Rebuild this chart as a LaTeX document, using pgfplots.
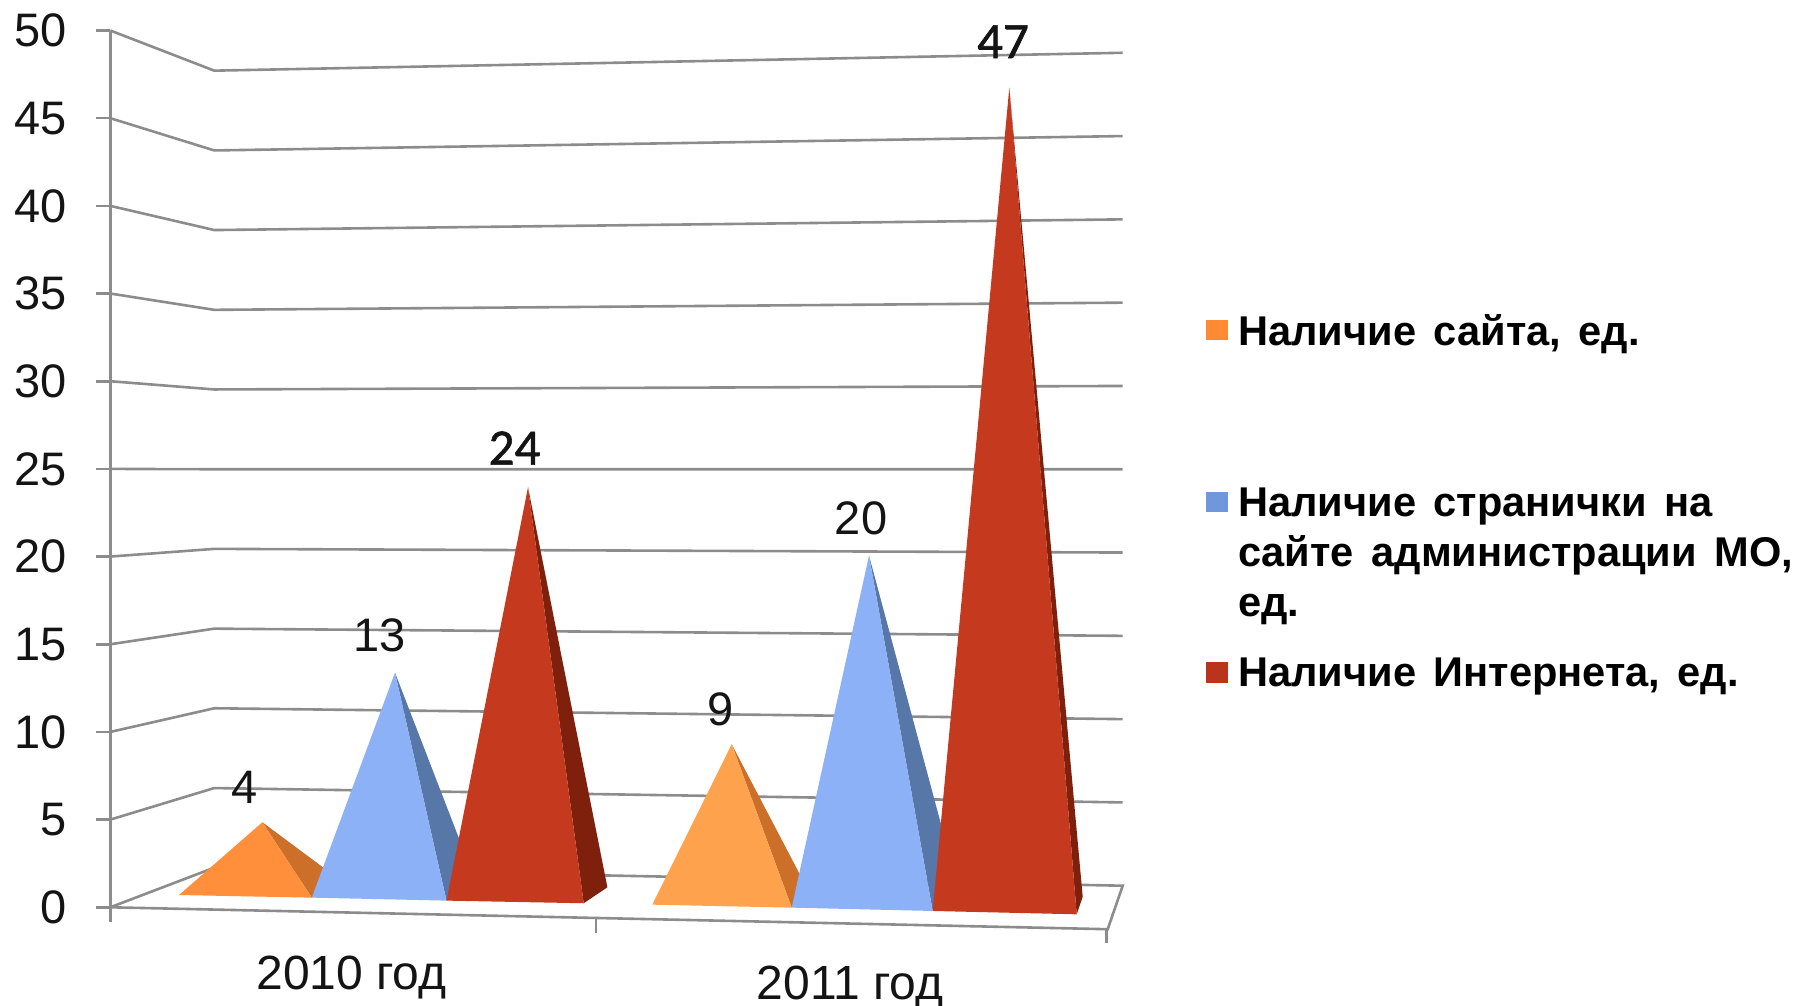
\documentclass[border=0pt]{standalone}
\usepackage{fontspec}
\setmainfont{Liberation Sans}
\newfontfamily\redlab[FakeBold=1.2]{Carlito}
\usepackage{pgfplots}
\pgfplotsset{compat=1.18}
\definecolor{gridc}{HTML}{8C8C8C}
\definecolor{orA}{HTML}{FF8F3A}
\definecolor{orB}{HTML}{FFA24D}
\definecolor{orS}{HTML}{CC7029}
\definecolor{blF}{HTML}{8CB1F6}
\definecolor{blS}{HTML}{5677A8}
\definecolor{reF}{HTML}{C53A1E}
\definecolor{reS}{HTML}{7F200D}
\definecolor{lgO}{HTML}{FF8A33}
\definecolor{lgB}{HTML}{7096DC}
\definecolor{lgR}{HTML}{B9341A}
\definecolor{txt}{HTML}{141414}
\newcommand{\lab}{\fontsize{23.5pt}{28pt}\selectfont}
\newcommand{\lgtxt}[1]{\parbox[t]{285pt}{\raggedright\fontsize{20.8pt}{25pt}\selectfont\bfseries\spaceskip=0.42em\relax #1}}
\pgfplotsset{
  gl/.style={forget plot,color=gridc,line width=1.3pt,no markers},
  face/.style={forget plot,fill=#1,draw=none,no markers},
  vals/.style={forget plot,draw=none,no markers,nodes near coords,point meta=explicit,
    /pgf/number format/assume math mode=true,
    every node near coord/.style={anchor=center,inner sep=0pt,text=txt,font=\lab}},
  sq/.style={legend image code/.code={\fill[##1,draw=none] (0pt,-4.45pt) rectangle (10.85pt,5.85pt);}}
}
\begin{document}
\begin{tikzpicture}
\path[use as bounding box] (-55.15pt,-49.35pt) rectangle (844.85pt,453.65pt);
\begin{axis}[
  scale only axis, width=506.2pt, height=438.4pt,
  at={(0pt,0pt)}, anchor=origin,
  xmin=110.3, xmax=1122.7, ymin=0, ymax=50,
  clip=false, hide x axis,
  axis y line=left, axis line style={-,color=gridc,line width=1.3pt},
  y axis line style={-},
  ytick={0,5,...,50}, tick align=outside, major tick length=7pt,
  tick style={color=gridc,line width=1.3pt},
  /pgf/number format/assume math mode=true,
  yticklabel style={anchor=east,inner sep=0pt,xshift=-14.65pt,text=txt,font=\lab},
  legend style={at={(axis description cs:1.0823,0.6811)},anchor=north west,draw=none,fill=none,
    inner sep=0pt,row sep=65.5pt,legend cell align=left,
    /tikz/every odd column/.append style={column sep=3pt}},
]
% floor
\addplot[forget plot,fill=white,draw=none,no markers] coordinates {(110.3,0) (214.3,2.26) (1122.7,1.23) (1107.7,-1.25)} -- cycle;
\addplot[gl] coordinates {(110.3,0) (214.3,2.26) (1122.7,1.23) (1107.7,-1.25) (110.3,0)};
% walls: value on left edge, back corner, right edge
\addplot[gl] coordinates {(110.3,5)  (214.3,6.80)  (1122.7,5.98)};
\addplot[gl] coordinates {(110.3,10) (214.3,11.35) (1122.7,10.73)};
\addplot[gl] coordinates {(110.3,15) (214.3,15.89) (1122.7,15.48)};
\addplot[gl] coordinates {(110.3,20) (214.3,20.44) (1122.7,20.23)};
\addplot[gl] coordinates {(110.3,25) (214.3,24.98) (1122.7,24.98)};
\addplot[gl] coordinates {(110.3,30) (214.3,29.53) (1122.7,29.73)};
\addplot[gl] coordinates {(110.3,35) (214.3,34.07) (1122.7,34.48)};
\addplot[gl] coordinates {(110.3,40) (214.3,38.62) (1122.7,39.23)};
\addplot[gl] coordinates {(110.3,45) (214.3,43.16) (1122.7,43.98)};
\addplot[gl] coordinates {(110.3,50) (214.3,47.71) (1122.7,48.73)};
% x ticks
\addplot[gl] coordinates {(110.3,0) (110.3,-0.82)};
\addplot[gl] coordinates {(595.8,-0.61) (595.8,-1.46)};
\addplot[gl] coordinates {(1106.3,-1.25) (1106.3,-2.05)};
% 2010
\addplot[face=orS] coordinates {(262.4,4.85) (311.8,0.55) (340,1.56)} -- cycle;
\addplot[face=orA] coordinates {(179,0.70) (311.8,0.55) (262.4,4.85)} -- cycle;
\addplot[face=blS] coordinates {(395,13.38) (446.5,0.38) (477,1.27)} -- cycle;
\addplot[face=blF] coordinates {(311.8,0.55) (446.5,0.38) (395,13.38)} -- cycle;
\addplot[face=reS] coordinates {(528,23.95) (583.7,0.23) (607.4,1.14)} -- cycle;
\addplot[face=reF] coordinates {(446.5,0.38) (583.7,0.23) (528,23.95)} -- cycle;
% 2011
\addplot[face=orS] coordinates {(731.7,9.30) (791.7,-0.02) (808,0.99)} -- cycle;
\addplot[face=orB] coordinates {(652.3,0.15) (791.7,-0.02) (731.7,9.30)} -- cycle;
\addplot[face=blS] coordinates {(869,20.06) (932.7,-0.21) (960,0.70)} -- cycle;
\addplot[face=blF] coordinates {(791.7,-0.02) (932.7,-0.21) (869,20.06)} -- cycle;
\addplot[face=reS] coordinates {(1009.3,46.74) (1076.7,-0.40) (1082.7,0.60)} -- cycle;
\addplot[face=reF] coordinates {(932.7,-0.21) (1076.7,-0.40) (1009.3,46.74)} -- cycle;
% data labels (meta = value)
\addplot[vals] coordinates {(244.6,6.86) [4] (721,11.31) [9]};
\addplot[vals] coordinates {(379.5,15.5) [13] (861,22.2) [20]};
\addplot[vals,every node near coord/.append style={font=\redlab\fontsize{25.5pt}{28pt}\selectfont}] coordinates {(514.5,26.19) [24] (1003,49.36) [47]};
% category labels
\addplot[forget plot,draw=none,no markers,nodes near coords,point meta=explicit symbolic,
  every node near coord/.style={anchor=base,inner sep=0pt,text=txt,font=\fontsize{24pt}{28pt}\selectfont}]
  coordinates {(351.5,-4.67) [2010 год] (850,-5.24) [2011 год]};
% legend
\addlegendimage{sq,fill=lgO}\addlegendentry{\lgtxt{Наличие сайта, ед.}}
\addlegendimage{sq,fill=lgB}\addlegendentry{\lgtxt{Наличие странички на сайте администрации МО, ед.}}
\addlegendimage{sq,fill=lgR}\addlegendentry{\lgtxt{Наличие Интернета, ед.}}
\end{axis}
\end{tikzpicture}
\end{document}
